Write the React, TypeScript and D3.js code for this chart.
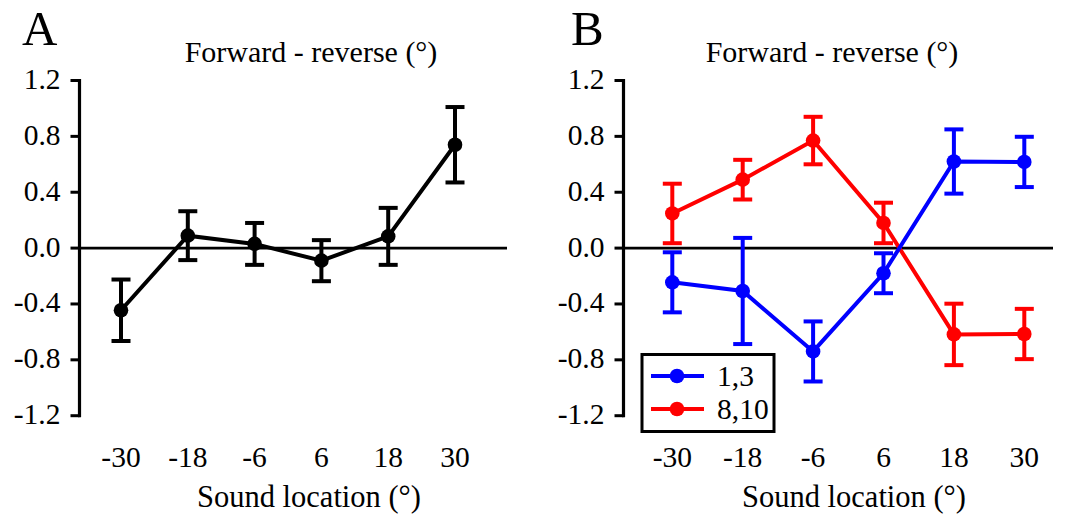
import React from "react";
import * as d3 from "d3";

const locations = [-30, -18, -6, 6, 18, 30];
const xTickLabels = ["-30", "-18", "-6", "6", "18", "30"];
const yTicks = [-1.2, -0.8, -0.4, 0, 0.4, 0.8, 1.2];
const yTickLabels = ["-1.2", "-0.8", "-0.4", "0.0", "0.4", "0.8", "1.2"];

// Panel A
const meanA = [-0.445, 0.089, 0.03, -0.09, 0.084, 0.74];
const errA = [0.22, 0.175, 0.15, 0.147, 0.204, 0.27];

// Panel B
const series13Mean = [-0.245, -0.307, -0.74, -0.18, 0.62, 0.617];
const series13Err = [0.215, 0.38, 0.215, 0.143, 0.23, 0.18];
const series810Mean = [0.248, 0.49, 0.77, 0.18, -0.618, -0.615];
const series810Err = [0.213, 0.142, 0.17, 0.145, 0.22, 0.18];

const FONT = "'Liberation Serif', 'Times New Roman', Times, serif";

const yScale = d3.scaleLinear().domain([-1.2, 1.2]).range([415.7, 80.5]);

type Series = { mean: number[]; err: number[]; color: string };

function Panel(props: {
  letter: string;
  letterX: number;
  axisX: number;
  xRange: [number, number];
  zeroEnd: number;
  titleX: number;
  xTitleX: number;
  series: Series[];
}) {
  const { letter, letterX, axisX, xRange, zeroEnd, titleX, xTitleX, series } = props;
  const x = d3.scaleLinear().domain([-30, 30]).range(xRange);
  const line = d3
    .line<number>()
    .x((_, i) => x(locations[i]))
    .y((d) => yScale(d));
  const cap = 9.5;
  const sw = 4;
  return (
    <g>
      <text x={letterX} y={45} fontSize={49} fontFamily={FONT} fill="#000">
        {letter}
      </text>
      <text x={titleX} y={62} fontSize={30} fontFamily={FONT} textAnchor="middle" fill="#000">
        Forward - reverse (°)
      </text>
      {/* zero line */}
      <line x1={axisX} x2={zeroEnd} y1={yScale(0)} y2={yScale(0)} stroke="#000" strokeWidth={2.8} />
      {/* y axis */}
      <line x1={axisX} x2={axisX} y1={yScale(1.2) - 1.5} y2={yScale(-1.2) + 1.5} stroke="#000" strokeWidth={3.2} />
      {yTicks.map((t, i) => (
        <g key={i}>
          <line x1={axisX - 9} x2={axisX} y1={yScale(t)} y2={yScale(t)} stroke="#000" strokeWidth={3} />
          <text
            x={axisX - 19}
            y={yScale(t) + 8.5}
            fontSize={29.5}
            fontFamily={FONT}
            textAnchor="end"
            fill="#000"
          >
            {yTickLabels[i]}
          </text>
        </g>
      ))}
      {locations.map((l, i) => (
        <text key={i} x={x(l)} y={467} fontSize={29.5} fontFamily={FONT} textAnchor="middle" fill="#000">
          {xTickLabels[i]}
        </text>
      ))}
      <text x={xTitleX} y={507} fontSize={30.5} fontFamily={FONT} textAnchor="middle" fill="#000">
        Sound location (°)
      </text>
      {series.map((s, si) => (
        <g key={si}>
          <path d={line(s.mean) || ""} fill="none" stroke={s.color} strokeWidth={sw} />
          {s.mean.map((m, i) => {
            const cx = x(locations[i]);
            const top = yScale(m + s.err[i]);
            const bot = yScale(m - s.err[i]);
            return (
              <g key={i}>
                <line x1={cx} x2={cx} y1={top} y2={bot} stroke={s.color} strokeWidth={sw} />
                <line x1={cx - cap} x2={cx + cap} y1={top} y2={top} stroke={s.color} strokeWidth={sw} />
                <line x1={cx - cap} x2={cx + cap} y1={bot} y2={bot} stroke={s.color} strokeWidth={sw} />
                <circle cx={cx} cy={yScale(m)} r={7.3} fill={s.color} />
              </g>
            );
          })}
        </g>
      ))}
    </g>
  );
}

const legendItems = [
  { label: "1,3", color: "#0000ff" },
  { label: "8,10", color: "#ff0000" },
];

export default function App() {
  return (
    <svg
      width={1078}
      height={515}
      style={{ position: "absolute", left: 0, top: 0, background: "#fff" }}
    >
      <rect x={0} y={0} width={1078} height={515} fill="#fff" />
      <Panel
        letter="A"
        letterX={22}
        axisX={79.5}
        xRange={[121, 455]}
        zeroEnd={507}
        titleX={311}
        xTitleX={309}
        series={[{ mean: meanA, err: errA, color: "#000" }]}
      />
      <Panel
        letter="B"
        letterX={571}
        axisX={623.5}
        xRange={[672.3, 1024.3]}
        zeroEnd={1053}
        titleX={832}
        xTitleX={854}
        series={[
          { mean: series810Mean, err: series810Err, color: "#ff0000" },
          { mean: series13Mean, err: series13Err, color: "#0000ff" },
        ]}
      />
      {/* legend */}
      <rect x={642} y={354.5} width={132} height={77} fill="#fff" stroke="#000" strokeWidth={3} />
      {legendItems.map((it, i) => {
        const y = 376 + i * 33;
        return (
          <g key={i}>
            <line x1={651} x2={704} y1={y} y2={y} stroke={it.color} strokeWidth={4} />
            <circle cx={677} cy={y} r={7.3} fill={it.color} />
            <text x={717} y={y + 10} fontSize={29.5} fontFamily={FONT} fill="#000">
              {it.label}
            </text>
          </g>
        );
      })}
    </svg>
  );
}
